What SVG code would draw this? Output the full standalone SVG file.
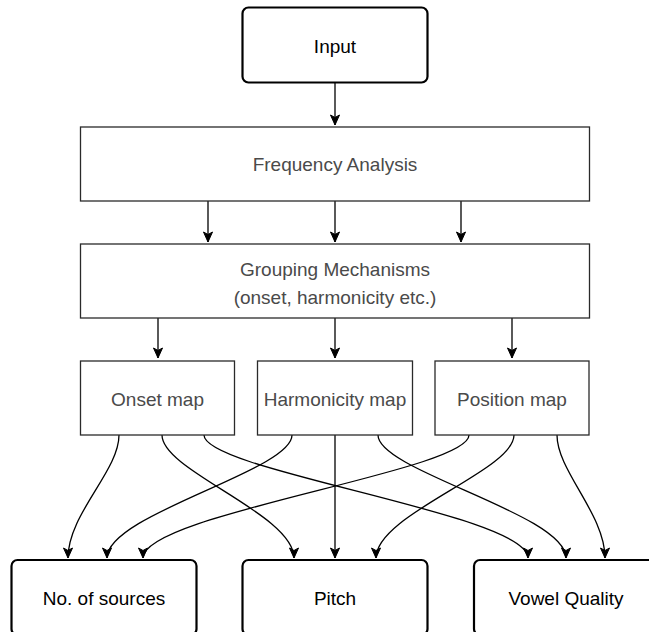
<svg xmlns="http://www.w3.org/2000/svg" width="649" height="632" viewBox="0 0 649 632">
<defs>
<marker id="arrow" markerWidth="12" markerHeight="12" viewBox="-11 -6 12 12" refX="0" refY="0" orient="auto" markerUnits="userSpaceOnUse">
<path d="M -10 -4.5 L 0 0 L -10 4.5 L -7.5 0 Z" fill="#000" stroke="#000" stroke-width="1" stroke-linejoin="miter"/>
</marker>
<style>
.thin{fill:#fff;stroke:#2a2a2a;stroke-width:1.3}
.thick{fill:#fff;stroke:#000;stroke-width:2.2}
.lt{font-family:"Liberation Sans",Arial,sans-serif;font-size:19px;fill:#4a4a4a;text-anchor:middle}
.bt{font-family:"Liberation Sans",Arial,sans-serif;font-size:19px;fill:#000;text-anchor:middle}
.edge{fill:none;stroke:#000;stroke-width:1.3;marker-end:url(#arrow)}
</style>
</defs>
<rect width="649" height="632" fill="#fff"/>
<g id="connectors">
<path class="edge" d="M335,83 L335,125"/>
<path class="edge" d="M208,201 L208,242"/>
<path class="edge" d="M335,201 L335,242"/>
<path class="edge" d="M461,201 L461,242"/>
<path class="edge" d="M158,318 L158,358"/>
<path class="edge" d="M335,318 L335,358"/>
<path class="edge" d="M512,318 L512,358"/>
<path class="edge" d="M119,435 C119,471 68,514 68,558"/>
<path class="edge" d="M162,435 C162,471 294,514 294,558"/>
<path class="edge" d="M204,435 C204,471 528,514 528,558"/>
<path class="edge" d="M292,435 C292,471 107,514 107,558"/>
<path class="edge" d="M335,435 L335,558"/>
<path class="edge" d="M378,435 C378,471 566,514 566,558"/>
<path class="edge" d="M469,435 C469,471 143,514 143,558"/>
<path class="edge" d="M514,435 C514,471 376,514 376,558"/>
<path class="edge" d="M557,435 C557,471 605,514 605,558"/>
</g>
<g id="input">
<rect class="thick" x="242.5" y="7.5" width="185" height="75" rx="6"/>
<text class="bt" x="335" y="52.5">Input</text>
</g>
<g id="freq">
<rect class="thin" x="80.5" y="127" width="509" height="74"/>
<text class="lt" x="335" y="171">Frequency Analysis</text>
</g>
<g id="grouping">
<rect class="thin" x="80.5" y="244" width="509" height="74"/>
<text class="lt" x="335" y="276">Grouping Mechanisms</text>
<text class="lt" x="335" y="304">(onset, harmonicity etc.)</text>
</g>
<g id="onset">
<rect class="thin" x="80.5" y="361" width="154" height="74"/>
<text class="lt" x="157.5" y="406">Onset map</text>
</g>
<g id="harmonicity">
<rect class="thin" x="257.5" y="361" width="155" height="74"/>
<text class="lt" x="335" y="406">Harmonicity map</text>
</g>
<g id="position">
<rect class="thin" x="435" y="361" width="154" height="74"/>
<text class="lt" x="512" y="406">Position map</text>
</g>
<g id="sources">
<rect class="thick" x="11.5" y="560" width="185" height="75" rx="6"/>
<text class="bt" x="104" y="604.5">No. of sources</text>
</g>
<g id="pitch">
<rect class="thick" x="242.5" y="560" width="185" height="75" rx="6"/>
<text class="bt" x="335" y="604.5">Pitch</text>
</g>
<g id="vowel">
<rect class="thick" x="474" y="560" width="185" height="75" rx="6"/>
<text class="bt" x="566" y="604.5">Vowel Quality</text>
</g>
</svg>
